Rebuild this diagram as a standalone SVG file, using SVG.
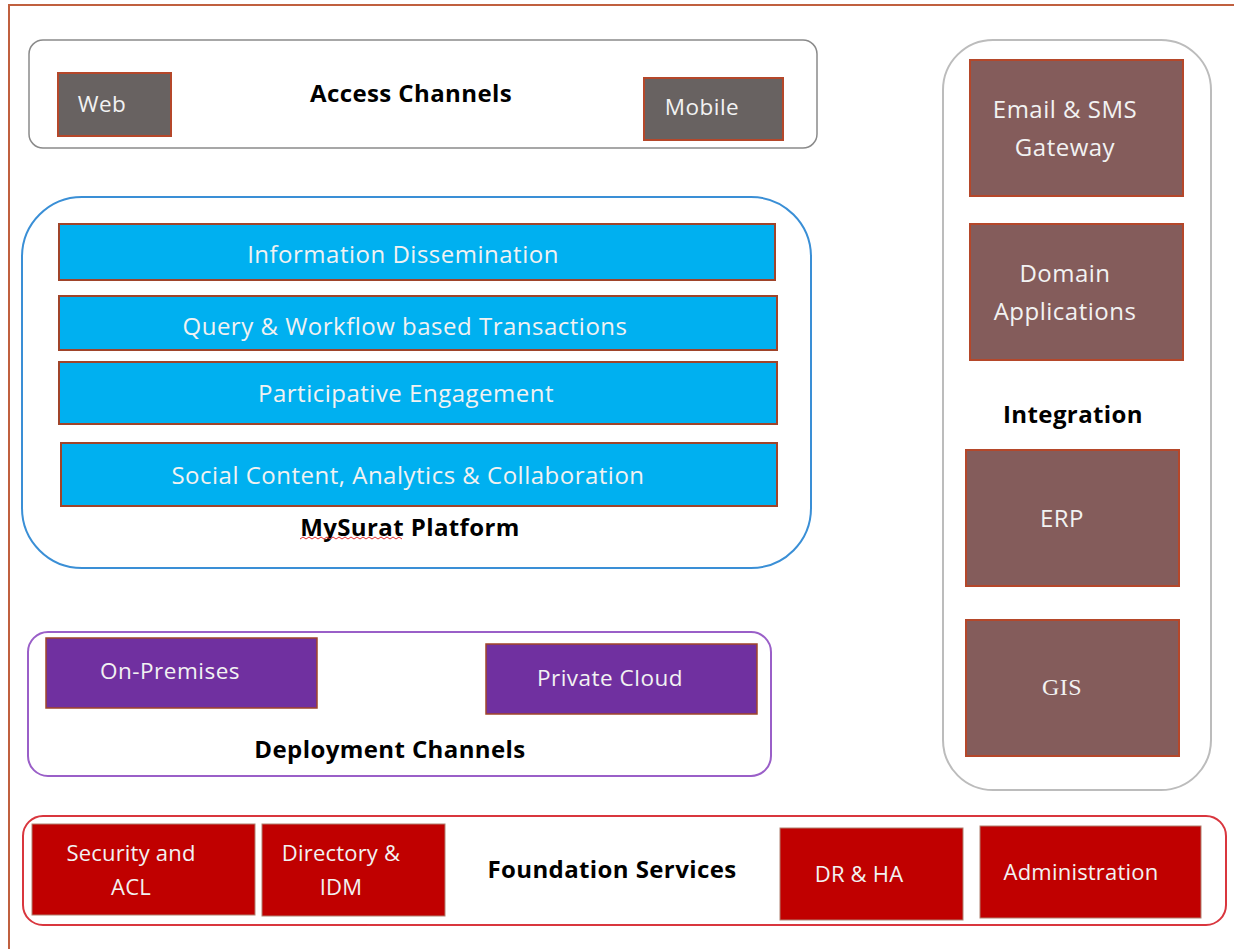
<svg xmlns="http://www.w3.org/2000/svg" width="1234" height="949" viewBox="0 0 1234 949">
<style>
  .t { font-family: "Open Sans", "Noto Sans", sans-serif; font-size: 24px; letter-spacing: 0.5px; fill: #f2f2f2; text-anchor: middle; dominant-baseline: central; }
  .s { font-size: 22.5px; }
  .f { font-size: 22px; letter-spacing: 0.2px; }
  .h { font-family: "Open Sans", "Noto Sans", sans-serif; font-size: 24px; letter-spacing: 0.4px; font-weight: bold; fill: #000; text-anchor: middle; dominant-baseline: central; }
  .gray { fill: #686261; stroke: #b5472a; stroke-width: 2; }
  .blue { fill: #00b0f0; stroke: #a0442a; stroke-width: 2; }
  .purple { fill: #7030a0; stroke: #a0442a; stroke-width: 1.5; }
  .brown { fill: #845c5b; stroke: #b5472a; stroke-width: 2; }
  .red { fill: #c00000; stroke: #b08070; stroke-width: 1; }
</style>
<rect width="1234" height="949" fill="#fff"/>
<rect x="9" y="5" width="1240" height="960" fill="none" stroke="#c0603f" stroke-width="2"/>

<g id="access-channels">
  <rect x="29" y="40" width="788" height="108" rx="14" fill="none" stroke="#8a8a8a" stroke-width="1.5"/>
  <text class="h" x="411" y="92">Access Channels</text>
  <g id="web">
    <rect class="gray" x="58" y="73" width="113" height="63"/>
    <text class="t s" x="102" y="103">Web</text>
  </g>
  <g id="mobile">
    <rect class="gray" x="644" y="78" width="139" height="62"/>
    <text class="t s" x="702" y="106">Mobile</text>
  </g>
</g>

<g id="mysurat-platform">
  <rect x="22" y="197" width="789" height="371" rx="60" fill="none" stroke="#3a8fd6" stroke-width="2"/>
  <g id="info-dissemination">
    <rect class="blue" x="59" y="224" width="716" height="56"/>
    <text class="t" x="403" y="253">Information Dissemination</text>
  </g>
  <g id="query-workflow">
    <rect class="blue" x="59" y="296" width="718" height="54"/>
    <text class="t" x="405" y="325">Query &amp; Workflow based Transactions</text>
  </g>
  <g id="participative">
    <rect class="blue" x="59" y="362" width="718" height="62"/>
    <text class="t" x="406" y="392">Participative Engagement</text>
  </g>
  <g id="social-content">
    <rect class="blue" x="61" y="443" width="716" height="63"/>
    <text class="t" x="408" y="474">Social Content, Analytics &amp; Collaboration</text>
  </g>
  <text class="h" x="410" y="526">MySurat Platform</text>
  <path d="M300 539 l3 -2 l3 2 l3 -2 l3 2 l3 -2 l3 2 l3 -2 l3 2 l3 -2 l3 2 l3 -2 l3 2 l3 -2 l3 2 l3 -2 l3 2 l3 -2 l3 2 l3 -2 l3 2 l3 -2 l3 2 l3 -2 l3 2 l3 -2 l3 2 l3 -2 l3 2 l3 -2 l3 2 l3 -2 l3 2 l3 -2 l3 2" fill="none" stroke="#e03030" stroke-width="1"/>
</g>

<g id="deployment-channels">
  <rect x="28" y="632" width="743" height="144" rx="20" fill="none" stroke="#9a5fc8" stroke-width="2"/>
  <g id="on-premises">
    <rect class="purple" x="46" y="638" width="271" height="70"/>
    <text class="t s" x="170" y="670">On-Premises</text>
  </g>
  <g id="private-cloud">
    <rect class="purple" x="486" y="644" width="271" height="70"/>
    <text class="t s" x="610" y="677">Private Cloud</text>
  </g>
  <text class="h" x="390" y="748">Deployment Channels</text>
</g>

<g id="integration">
  <rect x="943" y="40" width="268" height="750" rx="50" fill="none" stroke="#bcbcbc" stroke-width="2"/>
  <g id="email-sms">
    <rect class="brown" x="970" y="60" width="213" height="136"/>
    <text class="t" x="1065" y="108">Email &amp; SMS</text>
    <text class="t" x="1065" y="146">Gateway</text>
  </g>
  <g id="domain-apps">
    <rect class="brown" x="970" y="224" width="213" height="136"/>
    <text class="t" x="1065" y="272">Domain</text>
    <text class="t" x="1065" y="310">Applications</text>
  </g>
  <text class="h" x="1073" y="413">Integration</text>
  <g id="erp">
    <rect class="brown" x="966" y="450" width="213" height="136"/>
    <text class="t" x="1062" y="517">ERP</text>
  </g>
  <g id="gis">
    <rect class="brown" x="966" y="620" width="213" height="136"/>
    <text class="t" x="1062" y="687" style="font-family:'Liberation Serif', serif">GIS</text>
  </g>
</g>

<g id="foundation-services">
  <rect x="23" y="816" width="1203" height="109" rx="20" fill="none" stroke="#d9363e" stroke-width="2"/>
  <g id="security-acl">
    <rect class="red" x="32" y="824" width="223" height="91"/>
    <text class="t f" x="131" y="852">Security and</text>
    <text class="t f" x="131" y="886">ACL</text>
  </g>
  <g id="directory-idm">
    <rect class="red" x="262" y="824" width="183" height="92"/>
    <text class="t f" x="341" y="852">Directory &amp;</text>
    <text class="t f" x="341" y="886">IDM</text>
  </g>
  <text class="h" x="612" y="868">Foundation Services</text>
  <g id="dr-ha">
    <rect class="red" x="780" y="828" width="183" height="92"/>
    <text class="t f" x="859" y="873">DR &amp; HA</text>
  </g>
  <g id="administration">
    <rect class="red" x="980" y="826" width="221" height="92"/>
    <text class="t f" x="1081" y="871">Administration</text>
  </g>
</g>
<g id="connectors"/>
</svg>
